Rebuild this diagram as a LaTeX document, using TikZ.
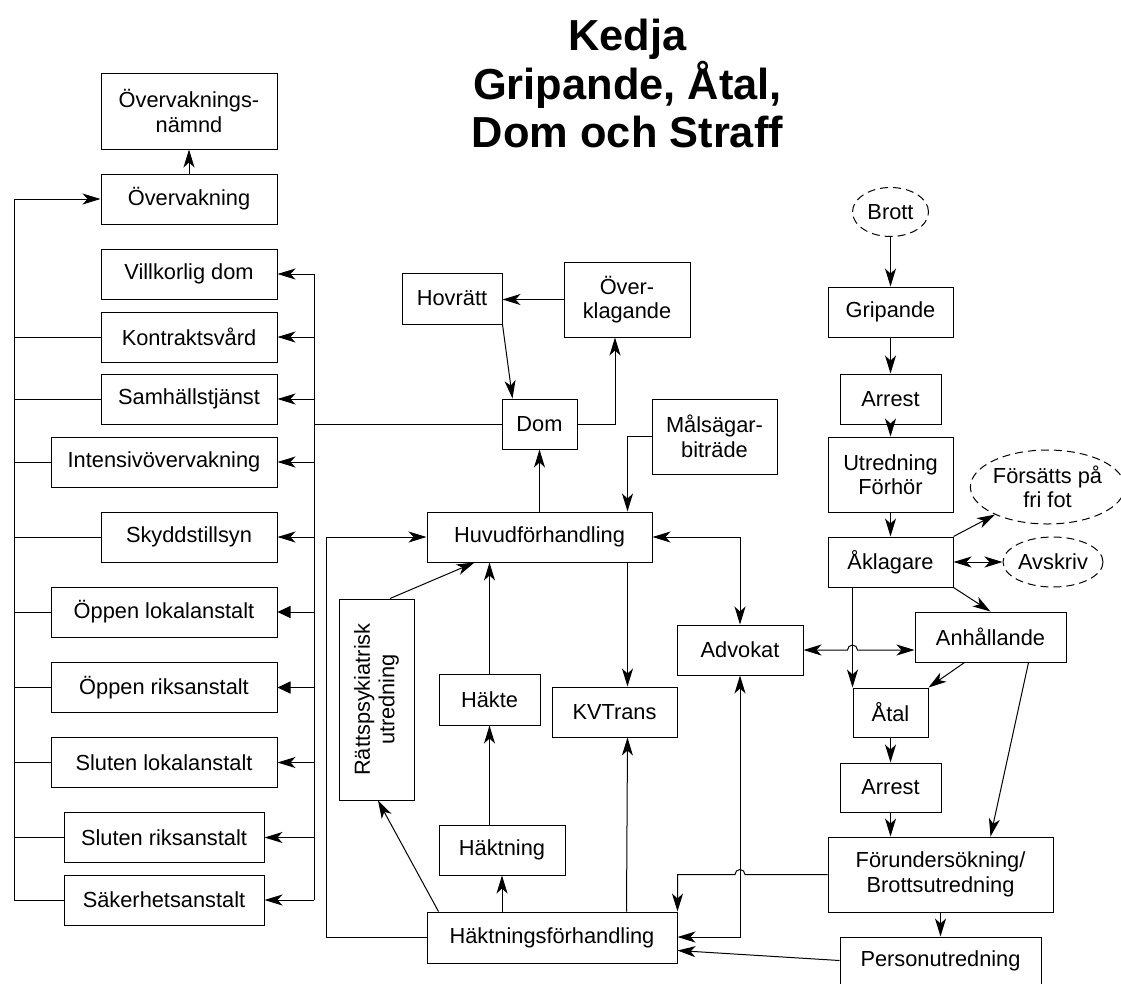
\documentclass[tikz,border=0pt]{standalone}
\usepackage{fontspec}
\setmainfont{Liberation Sans}
\usetikzlibrary{arrows.meta,calc,shapes.geometric}
\begin{document}
\begin{tikzpicture}[x=1pt,y=-1pt,
  every node/.style={font=\fontsize{21.8}{24.5}\selectfont},
  box/.style={draw, line width=1pt, rectangle, inner sep=0pt, align=center, minimum height=50pt},
  oval/.style={draw, line width=1pt, dash pattern=on 8pt off 5pt, ellipse, inner sep=0pt, align=center},
  conn/.style={line width=1pt},
  arr/.style={conn, -{Stealth[length=18pt,width=11pt,inset=5pt]}},
  darr/.style={conn, {Stealth[length=18pt,width=11pt,inset=5pt]}-{Stealth[length=18pt,width=11pt,inset=5pt]}},
  tarr/.style={conn, -{Triangle[length=13pt,width=12pt]}},
  ttl/.style={anchor=base, font=\fontsize{43.4}{48.5}\selectfont\bfseries},
]
\useasboundingbox (0,0) rectangle (1121,983);

% title
\node[ttl] (t1) at (627.5,50) {Kedja};
\node[ttl] (t2) at (627.5,99) {Gripande, Åtal,};
\node[ttl] (t3) at (627.5,147) {Dom och Straff};

% left column
\node[box, minimum width=176pt, minimum height=76pt] (ovnamnd) at (189,111) {Övervaknings-\\nämnd};
\node[box, minimum width=176pt] (overv) at (189,199) {Övervakning};
\node[box, minimum width=176pt] (villk) at (189,274) {Villkorlig dom};
\node[box, minimum width=176pt] (kontr) at (189,337) {Kontraktsvård};
\node[box, minimum width=176pt] (samh) at (189,399) {Samhällstjänst};
\node[box, minimum width=226pt] (intens) at (164,462) {Intensivövervakning};
\node[box, minimum width=176pt] (skydd) at (189,537) {Skyddstillsyn};
\node[box, minimum width=226pt] (opplok) at (164,612) {Öppen lokalanstalt};
\node[box, minimum width=226pt] (oppriks) at (164,687.5) {Öppen riksanstalt};
\node[box, minimum width=226pt] (slutlok) at (164,762.5) {Sluten lokalanstalt};
\node[box, minimum width=200pt] (slutriks) at (164,837.5) {Sluten riksanstalt};
\node[box, minimum width=200pt] (saker) at (164,900) {Säkerhetsanstalt};

% middle
\node[box, minimum width=100pt, minimum height=51pt] (hovr) at (452,298.5) {Hovrätt};
\node[box, minimum width=126pt, minimum height=75pt] (overkl) at (627,299.5) {Över-\\klagande};
\node[box, minimum width=75pt] (dom) at (539.5,424) {Dom};
\node[box, minimum width=125pt, minimum height=75pt] (malsag) at (714.5,436.5) {Målsägar-\\biträde};
\node[box, minimum width=225pt] (huvud) at (539.5,537) {Huvudförhandling};
\node[box, rotate=90, minimum width=201pt, minimum height=75pt] (ratt) at (376.5,699.5) {Rättspsykiatrisk\\utredning};
\node[box, minimum width=101pt, minimum height=51pt] (hakte) at (489.5,699.5) {Häkte};
\node[box, minimum width=125pt] (kvtrans) at (614.5,712) {KVTrans};
\node[box, minimum width=126pt] (haktning) at (502,850) {Häktning};
\node[box, minimum width=250pt, minimum height=51pt] (haktf) at (552,937.5) {Häktningsförhandling};
\node[box, minimum width=126pt] (advokat) at (740,650) {Advokat};

% right column
\node[oval, minimum width=76pt, minimum height=49pt] (brott) at (890.5,212) {Brott};
\node[box, minimum width=125pt] (grip) at (890.5,312) {Gripande};
\node[box, minimum width=101pt] (arrest1) at (890.5,399) {Arrest};
\node[box, minimum width=125pt, minimum height=75pt] (utred) at (890.5,474.5) {Utredning\\Förhör};
\node[oval, minimum width=141pt, minimum height=74pt] (forsatts) at (1047.5,487) {Försätts på\\fri fot};
\node[box, minimum width=125pt] (aklag) at (890.5,562) {Åklagare};
\node[oval, minimum width=100pt, minimum height=50pt] (avskriv) at (1053,562) {Avskriv};
\node[box, minimum width=151pt] (anhall) at (990.5,637) {Anhållande};
\node[box, minimum width=75pt, minimum height=49pt] (atal) at (890.5,712.5) {Åtal};
\node[box, minimum width=101pt, minimum height=49pt] (arrest2) at (890.5,787.5) {Arrest};
\node[box, minimum width=225pt, minimum height=75pt] (forund) at (940.5,874.5) {Förundersökning/\\Brottsutredning};
\node[box, minimum width=201pt, minimum height=47pt] (person) at (940.5,960.5) {Personutredning};

% left bus
\coordinate (lb) at (14,900);
\draw[arr] (saker.west) -- (lb) -- (lb |- overv.west) -- (overv.west);
\foreach \n in {kontr,samh,intens,skydd,opplok,oppriks,slutlok,slutriks}
  \draw[conn] (\n.west) -- (\n.west -| lb);
\draw[arr] (overv.north) -- (ovnamnd.south);

% right bus
\coordinate (rb) at (314,424);
\draw[conn] (dom.west) -- (rb);
\draw[conn] (rb |- villk.east) -- (rb |- saker.east);
\foreach \n in {villk,kontr,samh,intens,skydd,slutlok,slutriks,saker}
  \draw[arr] (\n.east -| rb) -- (\n.east);
\foreach \n in {opplok,oppriks}
  \draw[tarr] (\n.east -| rb) -- (\n.east);

% middle connectors
\draw[arr] (overkl.west) -- (overkl.west -| hovr.east);
\draw[arr] (hovr.south east) -- ($(dom.north west)+(11,0)$);
\draw[arr] (dom.east) -| ($(overkl.south)+(-12,0)$);
\draw[arr] (huvud.north) -- (dom.south);
\draw[arr] (malsag.west) -| ($(huvud.north east)+(-25,0)$);
\draw[darr] (huvud.east) -| (advokat.north);
\draw[arr] (haktf.west) -- ++(-100,0) |- (huvud.west);
\draw[arr] ($(ratt.east)+(13.5,0)$) -- ($(huvud.south west)+(48,0)$);
\draw[arr] (hakte.north) -- (hakte.north |- huvud.south);
\draw[arr] ($(huvud.south east)+(-25,0)$) -- ($(kvtrans.north east)+(-50,0)$);
\draw[arr] ($(haktf.north west)+(200,0)$) -- ($(kvtrans.south east)+(-50,0)$);
\draw[arr] (hakte.south |- haktning.north) -- (hakte.south);
\draw[arr] (haktf.north -| haktning.south) -- (haktning.south);
\draw[arr] ($(haktf.north west)+(12,0)$) -- ($(ratt.west)+(1.5,0)$);
\draw[darr] (advokat.south) |- ($(haktf.east)+(0,-0.5)$);
\draw[arr] (person.west) -- ($(haktf.east)+(0,13)$);
\coordinate (hop2) at (advokat.south |- forund.west);
\draw[arr] (forund.west) -- ($(hop2)+(5,0)$) arc[start angle=0, end angle=180, radius=5pt]
  -- (haktf.north east |- forund.west) -- (haktf.north east);

% right connectors
\draw[arr] (brott.south) -- (grip.north);
\draw[arr] (grip.south) -- (arrest1.north);
\draw[arr] (arrest1.south) -- (utred.north);
\draw[arr] (utred.south) -- (aklag.north);
\draw[arr] (aklag.north east) -- (forsatts);
\draw[darr] (aklag.east) -- (avskriv.west);
\draw[arr] (aklag.south east) -- (anhall.north);
\draw[arr] (aklag.south -| atal.north west) -- (atal.north west);
\coordinate (hop1) at (atal.north west |- advokat.east);
\draw[darr] (advokat.east) -- ($(hop1)+(-5,0)$) arc[start angle=180, end angle=0, radius=5pt]
  -- (anhall.west |- advokat.east);
\draw[arr] ($(anhall.south west)+(50,0)$) -- (atal.north east);
\draw[arr] ($(anhall.south east)+(-38,0)$) -- ($(forund.north west)+(163,0)$);
\draw[arr] (atal.south) -- (arrest2.north);
\draw[arr] (arrest2.south) -- (arrest2.south |- forund.north);
\draw[arr] (forund.south) -- (person.north);
\end{tikzpicture}
\end{document}
